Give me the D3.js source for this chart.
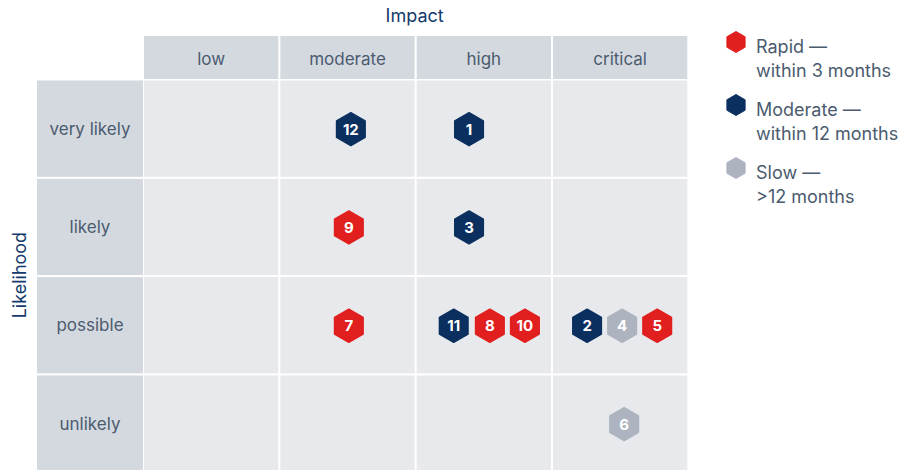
<!DOCTYPE html>
<html>
<head>
<meta charset="utf-8">
<script src="https://cdn.jsdelivr.net/npm/d3@7"></script>
<style>
  body { margin: 0; background: #fff; }
  svg text { font-family: Inter, "Open Sans", sans-serif; }
</style>
</head>
<body>
<div></div>
<script>
// categories
const impactLevels = ["low", "moderate", "high", "critical"]
const likelihoodLevels = ["very likely", "likely", "possible", "unlikely"]
const speedLevels = ["Rapid", "Moderate", "Slow"]
const legendLines = [["Rapid \u2014", "within 3 months"], ["Moderate \u2014", "within 12 months"], ["Slow \u2014", ">12 months"]]

// risks, one entry per badge
const riskIds = [12, 1, 9, 3, 7, 11, 8, 10, 2, 4, 5, 6]
const riskImpact = ["moderate", "high", "moderate", "high", "moderate", "high", "high", "high", "critical", "critical", "critical", "critical"]
const riskLikelihood = ["very likely", "very likely", "likely", "likely", "possible", "possible", "possible", "possible", "possible", "possible", "possible", "unlikely"]
const riskSpeed = ["Moderate", "Moderate", "Rapid", "Moderate", "Rapid", "Moderate", "Rapid", "Rapid", "Moderate", "Slow", "Rapid", "Slow"]
// where the badge sits across its cell (0 = left edge, 1 = right edge)
const riskSpot = [0.525, 0.39, 0.51, 0.39, 0.51, 0.276, 0.545, 0.806, 0.254, 0.515, 0.776, 0.53]

let w = 924
let h = 470

let svg = d3.select("div").append("svg").attr("width", w).attr("height", h)

let colors = d3.scaleOrdinal().domain(speedLevels).range(["#e11f1f", "#0b305f", "#adb4bf"])

let xScale = d3.scaleBand().domain(impactLevels).range([143, 686.3]).paddingInner(0.0147)
let yScale = d3.scaleBand().domain(likelihoodLevels).range([79.5, 470.7]).paddingInner(0.0203)

let headTop = 36
let labelLeft = 37
let labelRight = 143

const labelColor = "#4b5b6f"
const navy = "#143a6b"

// header row
svg.selectAll(".head")
    .data(impactLevels)
    .enter()
    .append("rect")
    .attr("class", "head")
    .attr("x", d => xScale(d) + 1)
    .attr("y", headTop)
    .attr("width", xScale.bandwidth())
    .attr("height", 79 - headTop)
    .attr("fill", "#d4d9e0")

svg.selectAll(".headText")
    .data(impactLevels)
    .enter()
    .append("text")
    .attr("x", d => xScale(d) + 1 + xScale.bandwidth() / 2)
    .attr("y", 65)
    .attr("text-anchor", "middle")
    .attr("font-size", 17)
    .attr("fill", labelColor)
    .text(d => d)

// row labels
svg.selectAll(".rowHead")
    .data(likelihoodLevels)
    .enter()
    .append("rect")
    .attr("class", "rowHead")
    .attr("x", labelLeft)
    .attr("y", d => yScale(d) + 1)
    .attr("width", labelRight - labelLeft)
    .attr("height", yScale.bandwidth())
    .attr("fill", "#d4d9e0")

svg.selectAll(".rowText")
    .data(likelihoodLevels)
    .enter()
    .append("text")
    .attr("x", (labelLeft + labelRight) / 2)
    .attr("y", d => yScale(d) + 1 + yScale.bandwidth() / 2 + 6)
    .attr("text-anchor", "middle")
    .attr("font-size", 17)
    .attr("fill", labelColor)
    .text(d => d)

// body cells
let cells = []
likelihoodLevels.forEach(r => impactLevels.forEach(c => cells.push([c, r])))

svg.selectAll(".cell")
    .data(cells)
    .enter()
    .append("rect")
    .attr("class", "cell")
    .attr("x", d => xScale(d[0]) + 1)
    .attr("y", d => yScale(d[1]) + 1)
    .attr("width", xScale.bandwidth())
    .attr("height", yScale.bandwidth())
    .attr("fill", "#e8e9ec")

// axis titles
svg.append("text")
    .attr("x", (xScale.range()[0] + xScale.range()[1]) / 2)
    .attr("y", 22)
    .attr("text-anchor", "middle")
    .attr("font-size", 18)
    .attr("fill", navy)
    .text("Impact")

svg.append("text")
    .attr("transform", "translate(26," + (yScale.range()[0] + yScale.range()[1]) / 2 + ") rotate(-90)")
    .attr("text-anchor", "middle")
    .attr("font-size", 18)
    .attr("fill", navy)
    .text("Likelihood")

// hexagon shape, pointy top
function hexPath(r) {
    let pts = d3.range(6).map(i => {
        let a = Math.PI / 3 * i - Math.PI / 2
        return [r * Math.cos(a), r * Math.sin(a)]
    })
    return d3.line().curve(d3.curveLinearClosed)(pts)
}

let risks = riskIds.map((id, i) => ({ id: id, impact: riskImpact[i], likelihood: riskLikelihood[i], speed: riskSpeed[i], spot: riskSpot[i] }))

let badges = svg.selectAll(".badge")
    .data(risks)
    .enter()
    .append("g")
    .attr("class", "badge")
    .attr("transform", d => {
        let spot = d3.scaleLinear().domain([0, 1]).range([xScale(d.impact) + 1, xScale(d.impact) + 1 + xScale.bandwidth()])
        let cy = yScale(d.likelihood) + 1 + yScale.bandwidth() / 2 + 0.5
        return "translate(" + spot(d.spot) + "," + cy + ")"
    })

badges.append("path")
    .attr("d", hexPath(16.5))
    .attr("fill", d => colors(d.speed))
    .attr("stroke", d => colors(d.speed))
    .attr("stroke-width", 1.5)
    .attr("stroke-linejoin", "round")

badges.append("text")
    .attr("y", 5.5)
    .attr("text-anchor", "middle")
    .attr("font-size", 15)
    .attr("font-weight", 700)
    .attr("fill", "#fff")
    .text(d => d.id)

// legend
let legend = svg.selectAll(".legend")
    .data(speedLevels)
    .enter()
    .append("g")
    .attr("class", "legend")
    .attr("transform", (d, i) => "translate(736," + (42 + i * 63) + ")")

legend.append("path")
    .attr("d", hexPath(10.5))
    .attr("fill", d => colors(d))
    .attr("stroke", d => colors(d))
    .attr("stroke-width", 1)
    .attr("stroke-linejoin", "round")

legend.append("text")
    .attr("x", 20)
    .attr("y", 11)
    .attr("font-size", 18)
    .attr("fill", labelColor)
    .selectAll("tspan")
    .data((d, i) => legendLines[i])
    .enter()
    .append("tspan")
    .attr("x", 20)
    .attr("dy", (d, i) => i == 0 ? 0 : 24)
    .text(d => d)
</script>
</body>
</html>
